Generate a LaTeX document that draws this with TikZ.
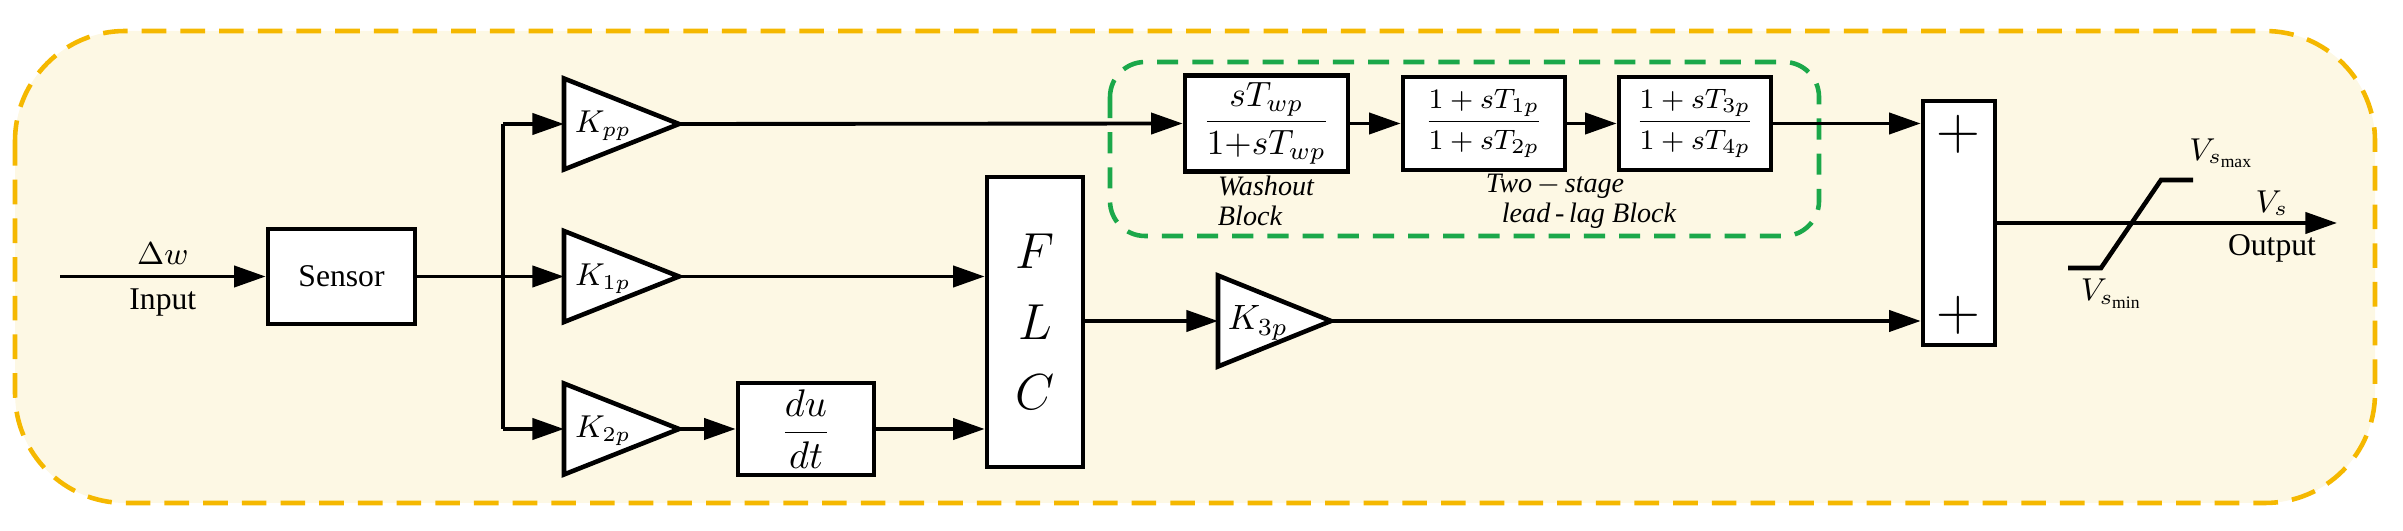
\documentclass[tikz,border=0pt]{standalone}
\usepackage{amsmath}
\usepackage{fontspec}
\setmainfont{Liberation Serif}
\usetikzlibrary{arrows.meta}
\definecolor{bgfill}{HTML}{FDF8E4}
\definecolor{orng}{HTML}{F5B800}
\definecolor{grn}{HTML}{1BA84A}
\begin{document}
\begin{tikzpicture}[x=0.01cm,y=0.01cm,
  wire/.style={line width=1.1pt,-{Triangle[length=9pt,width=6pt]}},
  blk/.style={draw,line width=1.3pt,fill=white},
  lbl/.style={font=\fontsize{9}{10}\selectfont,inner sep=0pt},
  ilbl/.style={font=\itshape\fontsize{8}{9}\selectfont,inner sep=0pt}]
\useasboundingbox (0,0) rectangle (2403,-531);
% outer region
\draw[orng,line width=1.3pt,dash pattern=on 7pt off 4pt,fill=bgfill,rounded corners=1.1cm] (15,-31) rectangle (2375,-503);
\draw[grn,line width=1.3pt,dash pattern=on 6pt off 4pt,rounded corners=0.35cm] (1110,-62) rectangle (1819,-236);
% sensor
\node[blk,minimum width=1.47cm,minimum height=0.95cm,inner sep=0pt,lbl] (sen) at (341.5,-276.5) {Sensor};
\coordinate (in) at (60,-276.5);
\draw[wire] (in) -- node[above=3pt,lbl]{$\Delta w$} node[below=3pt,lbl]{Input} (sen.west);
% gains
\foreach \n/\y/\t in {kpp/124/{K_{pp}},k1p/276.5/{K_{1p}},k2p/429/{K_{2p}}}{
  \draw[line width=1.3pt,fill=white] (564,-\y+45.5) -- (679,-\y) -- (564,-\y-45.5) -- cycle;
  \coordinate (\n i) at (564,-\y); \coordinate (\n o) at (679,-\y);
  \node[lbl] at (603,-\y-2) {$\t$};
}
\coordinate (br) at (503,-276.5);
\coordinate (bt) at (503,-124);
\coordinate (bb) at (503,-429);
\draw[line width=1.1pt] (sen.east) -- (br);
\draw[line width=1.1pt] (bt) -- (bb);
\draw[wire] (bt) -- (kppi);
\draw[wire] (br) -- (k1pi);
\draw[wire] (bb) -- (k2pi);
% du/dt
\node[blk,minimum width=1.36cm,minimum height=0.92cm,inner sep=0pt,font=\fontsize{11}{12}\selectfont] (dudt) at (806,-429) {$\dfrac{du}{dt}$};
\draw[wire] (k2po) -- (dudt.west);
% FLC
\node[blk,minimum width=0.96cm,minimum height=2.9cm,inner sep=0pt,font=\fontsize{14}{20}\selectfont,align=center] (flc) at (1035,-322) {$F$\\$L$\\$C$};
\draw[wire] (k1po) -- (flc.west |- k1po);
\draw[wire] (dudt.east) -- (flc.west |- dudt.east);
% K3p
\draw[line width=1.3pt,fill=white] (1218,-275.5) -- (1331,-321) -- (1218,-366.5) -- cycle;
\coordinate (k3i) at (1218,-321); \coordinate (k3o) at (1331,-321);
\node[font=\fontsize{10}{11}\selectfont,inner sep=0pt] at (1258,-323) {$K_{3p}$};
\draw[wire] (flc.east |- k3i) -- (k3i);
% washout and lead-lag
\node[blk,minimum width=1.63cm,minimum height=0.96cm,inner sep=0pt,font=\fontsize{10}{11}\selectfont] (wo) at (1266.5,-123.5) {$\dfrac{sT_{wp}}{1{+}sT_{wp}}$};
\node[blk,minimum width=1.62cm,minimum height=0.93cm,inner sep=0pt,font=\fontsize{8}{9}\selectfont] (ll1) at (1484,-123.5) {$\dfrac{1+sT_{1p}}{1+sT_{2p}}$};
\node[blk,minimum width=1.52cm,minimum height=0.93cm,inner sep=0pt,font=\fontsize{8}{9}\selectfont] (ll2) at (1695,-123.5) {$\dfrac{1+sT_{3p}}{1+sT_{4p}}$};
\draw[wire] (kppo) -- (wo.west);
\draw[wire] (wo.east) -- (ll1.west);
\draw[wire] (ll1.east) -- (ll2.west);
\node[ilbl] at (1266,-186) {Washout};
\node[ilbl] at (1250,-216) {Block};
\node[ilbl] at (1555,-186) {Two\,$-$\,stage};
\node[ilbl] at (1589,-216) {lead\,-\,lag Block};
% summer
\node[blk,minimum width=0.72cm,minimum height=2.44cm,inner sep=0pt] (sum) at (1959,-223) {};
\node[font=\fontsize{16}{16}\selectfont,inner sep=0pt] at (1958,-134) {$+$};
\node[font=\fontsize{16}{16}\selectfont,inner sep=0pt] at (1958,-315) {$+$};
\draw[wire] (ll2.east) -- (sum.west |- ll2.east);
\draw[wire] (k3o) -- (sum.west |- k3o);
% output
\coordinate (out) at (2337,-223);
\draw[wire] (sum.east) -- (out);
\draw[line width=1.3pt] (2068,-268) -- (2101,-268) -- (2161,-180) -- (2193,-180);
\node[lbl] at (2222,-153) {$V_{s_{\rm max}}$};
\node[lbl] at (2112,-294) {$V_{s_{\rm min}}$};
\node[lbl] at (2272,-203) {$V_s$};
\node[lbl] at (2272,-248) {Output};
\end{tikzpicture}
\end{document}
